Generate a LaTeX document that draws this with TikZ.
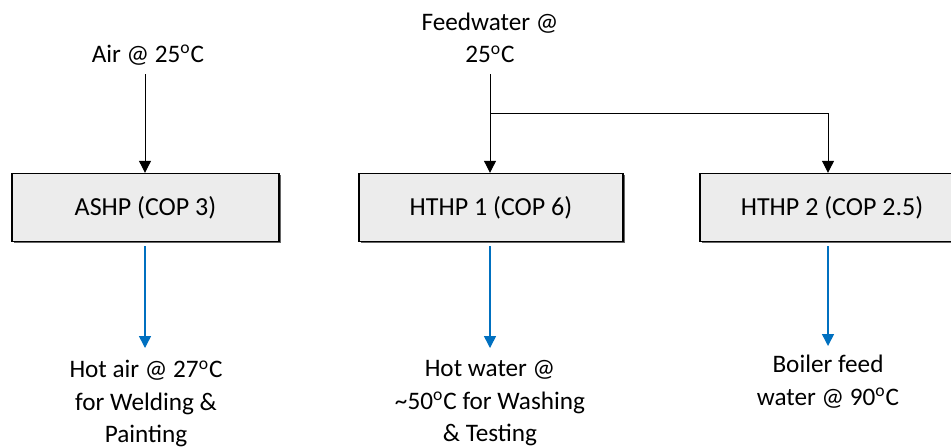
\documentclass[tikz,border=0pt]{standalone}
\usepackage{fontspec}
\setmainfont{Carlito}
\usetikzlibrary{arrows.meta,shadows}
\definecolor{boxfill}{RGB}{236,236,236}
\definecolor{flowblue}{RGB}{0,112,192}
\tikzset{
  unitbox/.style={draw=black, line width=0.7pt, fill=boxfill, minimum height=34pt, inner sep=0pt,
    font=\fontsize{13}{15}\selectfont,
    drop shadow={shadow xshift=0.8pt, shadow yshift=-0.8pt, fill=black!60, opacity=1}},
  lbl/.style={align=center, inner sep=0pt, font=\fontsize{12.6}{16.3}\selectfont},
  inflow/.style={draw=black, line width=0.5pt, -{Triangle[width=6pt,length=6pt]}},
  outflow/.style={draw=flowblue, line width=0.75pt, -{Triangle[width=6pt,length=6pt]}},
  feed/.style={draw=black, line width=0.5pt}
}
\newcommand{\dg}{\textsuperscript{o}C}
\begin{document}
\begin{tikzpicture}[x=0.5pt,y=-0.5pt]
\useasboundingbox (0,0) rectangle (951,447);
\begin{scope}
\clip (0,0) rectangle (951,447);
\node[unitbox, minimum width=133.5pt] (ashp) at (145.5,207.5) {ASHP (COP 3)};
\node[unitbox, minimum width=132pt] (hthp1) at (491,207.5) {HTHP 1 (COP 6)};
\node[unitbox, minimum width=132pt] (hthp2) at (832,207.5) {HTHP 2 (COP 2.5)};

\node[lbl, anchor=center] (air) at (148,55) {Air @ 25\dg};
\node[lbl, anchor=center] (fw) at (490,38) {Feedwater @\\25\dg};

\coordinate (airtop) at (145,74);
\coordinate (fwtop) at (490,74);
\coordinate (split) at (490,113);
\coordinate (corner) at (828,113);

\draw[inflow] (airtop) -- (airtop |- ashp.north);
\draw[inflow] (fwtop) -- (fwtop |- hthp1.north);
\draw[feed] (split) -- (corner);
\draw[inflow] (corner) -- (corner |- hthp2.north);

\node[lbl, anchor=north] (out1) at (146,360) {Hot air @ 27\dg\\for Welding \&\\Painting};
\node[lbl, anchor=north] (out2) at (490,360) {Hot water @\\\textasciitilde 50\dg{} for Washing\\\& Testing};
\node[lbl, anchor=north] (out3) at (828,355) {Boiler feed\\water @ 90\dg};

\coordinate (e1) at (145,348);
\coordinate (e2) at (490,348);
\coordinate (e3) at (828,346);
\draw[outflow] ([yshift=-2pt]ashp.south -| e1) -- (e1);
\draw[outflow] ([yshift=-2pt]hthp1.south -| e2) -- (e2);
\draw[outflow] ([yshift=-2pt]hthp2.south -| e3) -- (e3);
\end{scope}
\end{tikzpicture}
\end{document}
